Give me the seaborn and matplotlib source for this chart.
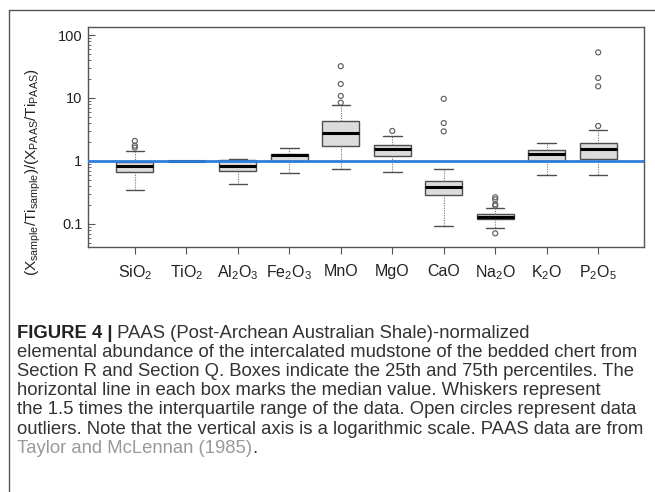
import matplotlib
matplotlib.use("Agg")
import matplotlib.pyplot as plt
from matplotlib.lines import Line2D
from matplotlib.ticker import LogLocator, NullFormatter
import seaborn as sns
import pandas as pd

# Box statistics (PAAS-normalized, Ti-normalized ratios)
oxides = ["SiO2", "TiO2", "Al2O3", "Fe2O3", "MnO", "MgO", "CaO", "Na2O", "K2O", "P2O5"]
tick_labels = [r"$\mathregular{SiO_2}$", r"$\mathregular{TiO_2}$", r"$\mathregular{Al_2O_3}$",
               r"$\mathregular{Fe_2O_3}$", "MnO", "MgO", "CaO", r"$\mathregular{Na_2O}$",
               r"$\mathregular{K_2O}$", r"$\mathregular{P_2O_5}$"]
whisk_lo = [0.34, 1.0, 0.43, 0.65, 0.74, 0.68, 0.093, 0.087, 0.60, 0.61]
q1 = [0.68, 1.0, 0.70, 1.01, 1.72, 1.18, 0.29, 0.12, 1.00, 1.09]
median = [0.82, 1.0, 0.83, 1.23, 2.81, 1.54, 0.38, 0.131, 1.27, 1.54]
q3 = [0.96, 1.0, 1.05, 1.29, 4.27, 1.78, 0.49, 0.144, 1.50, 1.90]
whisk_hi = [1.43, 1.0, 1.06, 1.61, 7.8, 2.48, 0.755, 0.18, 1.90, 3.1]

outlier_oxide = ["SiO2", "SiO2", "SiO2", "MnO", "MnO", "MnO", "MnO", "MgO",
                 "CaO", "CaO", "CaO", "Na2O", "Na2O", "Na2O", "Na2O", "Na2O",
                 "P2O5", "P2O5", "P2O5", "P2O5"]
outlier_value = [2.08, 1.75, 1.63, 32.0, 16.7, 10.8, 8.4, 3.0,
                 9.7, 4.0, 2.95, 0.265, 0.245, 0.205, 0.195, 0.071,
                 53.0, 20.8, 15.3, 3.6]

caption_lines = [
    " PAAS (Post-Archean Australian Shale)-normalized",
    "elemental abundance of the intercalated mudstone of the bedded chert from",
    "Section R and Section Q. Boxes indicate the 25th and 75th percentiles. The",
    "horizontal line in each box marks the median value. Whiskers represent",
    "the 1.5 times the interquartile range of the data. Open circles represent data",
    "outliers. Note that the vertical axis is a logarithmic scale. PAAS data are from",
]

# long-form frame: five-number summary per oxide
rows = []
for i, ox in enumerate(oxides):
    for v in (whisk_lo[i], q1[i], median[i], q3[i], whisk_hi[i]):
        rows.append({"oxide": ox, "value": v})
box_df = pd.DataFrame(rows)
out_df = pd.DataFrame({"oxide": outlier_oxide, "value": outlier_value})

sns.set_style("ticks")
plt.rcParams["font.family"] = ["Liberation Sans", "DejaVu Sans"]
plt.rcParams["axes.edgecolor"] = "#555555"

W, H = 655, 492
fig = plt.figure(figsize=(W / 100, H / 100), dpi=100)
ax = fig.add_axes([88 / W, 1 - 247 / H, (644 - 88) / W, (247 - 27) / H])
ax.set_yscale("log")

sns.boxplot(data=box_df, x="oxide", y="value", order=oxides, whis=(0, 100),
            width=0.72, color="#dcdcdc", linecolor="#4d4d4d", linewidth=1.0,
            saturation=1, ax=ax,
            medianprops=dict(color="black", linewidth=2.2),
            whiskerprops=dict(color="#777777", linewidth=0.8, linestyle=(0, (1, 1.2))),
            capprops=dict(color="#4d4d4d", linewidth=1.0))

n_before = len(ax.collections)
sns.stripplot(data=out_df, x="oxide", y="value", order=oxides, jitter=False,
              size=3.6, color="#666666", ax=ax, zorder=4)
for pts in ax.collections[n_before:]:
    pts.set_facecolor("none")
    pts.set_edgecolor("#666666")
    pts.set_linewidth(0.9)

ax.axhline(1, color="#2f7ddb", linewidth=2.0, zorder=6)

ax.set_xlim(-0.91, 9.89)
ax.set_ylim(0.0431, 134)
ax.set_yticks([0.1, 1, 10, 100])
ax.set_yticklabels(["0.1", "1", "10", "100"], fontsize=10.5, color="#222222")
ax.yaxis.set_minor_locator(LogLocator(base=10, subs=range(2, 10), numticks=20))
ax.yaxis.set_minor_formatter(NullFormatter())
ax.tick_params(axis="y", which="major", direction="in", length=5, width=0.8,
               color="#555555", pad=4)
ax.tick_params(axis="y", which="minor", direction="in", length=2.5, width=0.6,
               color="#555555")
ax.set_xticks(range(len(oxides)))
ax.set_xticklabels(tick_labels, fontsize=11.5, color="#222222")
ax.tick_params(axis="x", direction="out", length=5, width=0.8, color="#555555", pad=7)
ax.set_xlabel("")
ax.set_ylabel("")
for sp in ax.spines.values():
    sp.set_visible(True)
    sp.set_linewidth(1.0)
    sp.set_color("#555555")

fig.text(33 / W, 1 - 172 / H,
         r"$\mathregular{(X_{sample}/Ti_{sample})/(X_{PAAS}/Ti_{PAAS})}$",
         rotation=90, ha="center", va="center", fontsize=11, color="#222222")

# outer frame (top and left rules)
fig.add_artist(Line2D([9 / W, 1], [1 - 10 / H, 1 - 10 / H], color="#555555", lw=1.0))
fig.add_artist(Line2D([9 / W, 9 / W], [0, 1 - 10 / H], color="#555555", lw=1.0))

# caption, sized so the longest line spans the same width as the reference
cap_color = "#333333"
renderer = fig.canvas.get_renderer()
probe = fig.text(0, 0, caption_lines[1], fontsize=10)
cap_size = 10 * 625 / probe.get_window_extent(renderer).width
probe.remove()

x0 = 17
base0 = 338
step = 19.1
bold = fig.text(x0 / W, 1 - base0 / H, "FIGURE 4 |", fontsize=cap_size,
                fontweight="bold", color="#222222", va="baseline")
bw = bold.get_window_extent(renderer).width
fig.text((x0 + bw) / W, 1 - base0 / H, caption_lines[0], fontsize=cap_size,
         color=cap_color, va="baseline")
for k, line in enumerate(caption_lines[1:], start=1):
    fig.text(x0 / W, 1 - (base0 + k * step) / H, line, fontsize=cap_size,
             color=cap_color, va="baseline")
ref = fig.text(x0 / W, 1 - (base0 + 6 * step) / H, "Taylor and McLennan (1985)",
               fontsize=cap_size, color="#999999", va="baseline")
rw = ref.get_window_extent(renderer).width
fig.text((x0 + rw) / W, 1 - (base0 + 6 * step) / H, ".", fontsize=cap_size,
         color=cap_color, va="baseline")

fig.savefig("out.png", dpi=100)
plt.close(fig)
